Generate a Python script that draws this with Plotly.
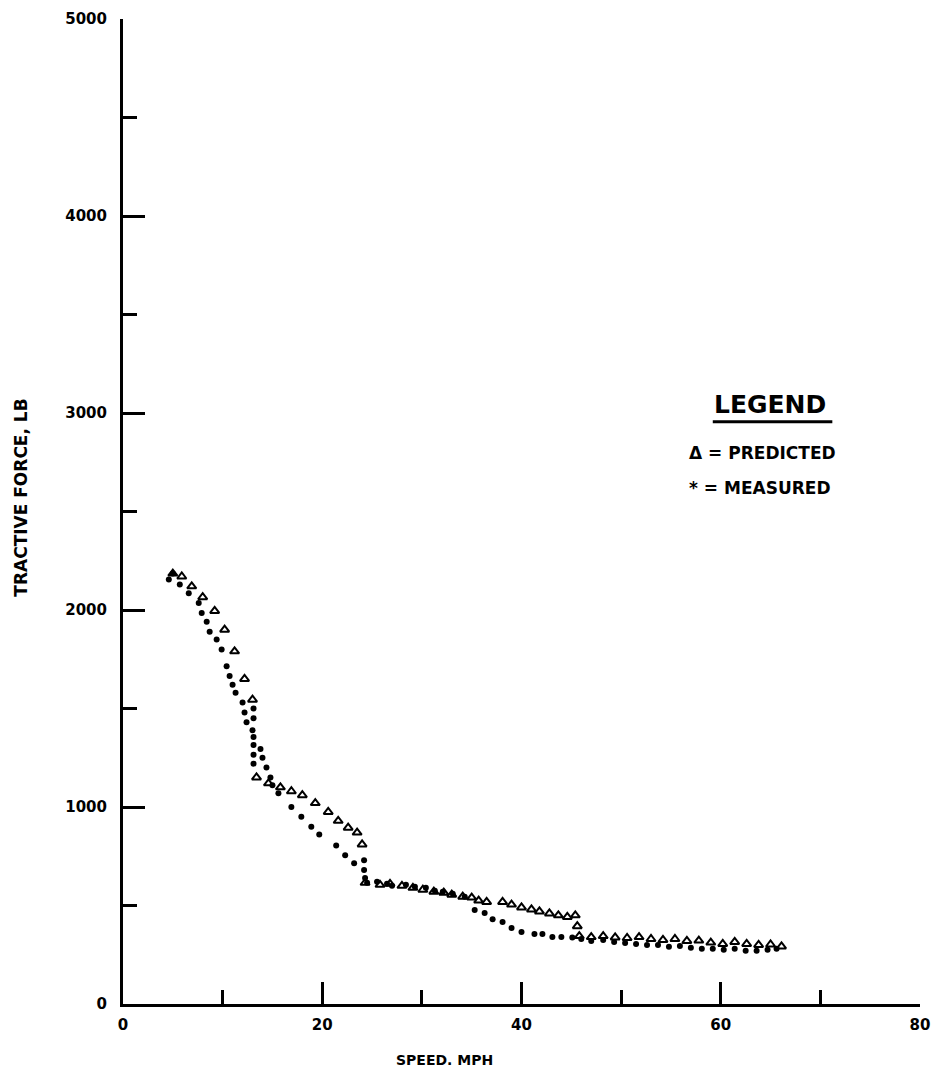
import plotly.graph_objects as go

# Tractive force vs. speed: predicted and measured values
predicted_mph = [5.0, 5.9, 6.9, 8.0, 9.2, 10.2, 11.2, 12.2, 13.0, 13.4,
                 14.6, 15.8, 16.9, 18.0, 19.3, 20.6, 21.6, 22.6, 23.5, 24.0,
                 24.3, 25.8, 26.8, 28.0, 29.1, 30.1, 31.2, 32.2, 33.0, 34.1,
                 35.0, 35.7, 36.5, 38.1, 39.0, 40.0, 41.0, 41.8, 42.8, 43.7,
                 44.6, 45.4, 45.6, 45.8, 47.0, 48.2, 49.4, 50.6, 51.8, 53.0,
                 54.2, 55.4, 56.6, 57.8, 59.0, 60.2, 61.4, 62.6, 63.8, 65.0,
                 66.1]
predicted_lb = [2185, 2170, 2120, 2065, 1995, 1900, 1790, 1650, 1545, 1150,
                1120, 1100, 1080, 1060, 1020, 975, 930, 895, 870, 810,
                615, 605, 610, 600, 590, 580, 570, 565, 555, 545,
                540, 525, 518, 518, 505, 490, 480, 470, 460, 450,
                442, 450, 395, 345, 340, 345, 338, 335, 340, 330,
                325, 330, 320, 322, 312, 305, 315, 305, 300, 302,
                292]

measured_mph = [4.6, 5.0, 5.7, 6.6, 7.6, 7.9, 8.4, 8.7, 9.4, 9.9,
                10.4, 10.7, 11.0, 11.3, 12.0, 12.2, 12.4, 13.0, 13.1, 13.1,
                13.1, 13.1, 13.1, 13.1, 13.8, 14.0, 14.4, 14.8, 15.0, 15.6,
                16.9, 17.9, 18.9, 19.7, 21.4, 22.3, 23.2, 24.2, 24.2, 24.3,
                24.5, 25.5, 26.5, 27.0, 28.4, 29.3, 30.4, 31.3, 32.1, 33.1,
                34.3, 35.3, 36.3, 37.1, 38.1, 39.0, 40.0, 41.3, 42.1, 43.1,
                44.0, 45.1, 46.0, 47.0, 48.2, 49.3, 50.4, 51.5, 52.6, 53.7,
                54.8, 55.9, 57.0, 58.1, 59.2, 60.3, 61.4, 62.5, 63.6, 64.7,
                65.6]
measured_lb = [2155, 2185, 2130, 2085, 2035, 1985, 1940, 1890, 1850, 1800,
               1715, 1665, 1620, 1580, 1530, 1480, 1430, 1390, 1500, 1450,
               1355, 1315, 1265, 1220, 1295, 1250, 1200, 1150, 1110, 1070,
               1000, 950, 900, 860, 805, 755, 715, 730, 680, 640,
               615, 620, 610, 600, 605, 595, 590, 575, 570, 560,
               545, 477, 462, 430, 416, 386, 365, 355, 355, 340,
               340, 338, 330, 320, 325, 315, 310, 305, 300, 300,
               290, 295, 285, 280, 280, 275, 280, 270, 270, 275,
               280]

x_tick_vals = [0, 20, 40, 60, 80]
x_tick_text = ["0", "20", "40", "60", "80"]
y_tick_vals = [0, 1000, 2000, 3000, 4000, 5000]
y_tick_text = ["0", "1000", "2000", "3000", "4000", "5000"]

FONT = "DejaVu Sans"
INK = "black"

fig = go.Figure()

fig.add_trace(go.Scatter(
    x=measured_mph, y=measured_lb, mode="markers", name="MEASURED",
    marker=dict(symbol="circle", size=6, color=INK),
    cliponaxis=False,
))
fig.add_trace(go.Scatter(
    x=predicted_mph, y=predicted_lb, mode="markers", name="PREDICTED",
    marker=dict(symbol="triangle-up-open", size=8, color=INK,
                line=dict(width=2, color=INK)),
    cliponaxis=False,
))

axis_common = dict(
    showgrid=False, zeroline=False, showline=True, linecolor=INK,
    linewidth=3, ticks="inside", tickcolor=INK, tickwidth=3, ticklen=22,
    automargin=False,
    tickfont=dict(family=FONT, size=15, color=INK, weight="bold"),
)

fig.update_xaxes(
    range=[0, 80], tickmode="array", tickvals=x_tick_vals,
    ticktext=x_tick_text, ticklabelstandoff=5,
    minor=dict(ticks="inside", dtick=10, ticklen=14, tickwidth=2.5,
               tickcolor=INK, showgrid=False),
    **axis_common,
)
fig.update_yaxes(
    range=[0, 5000], tickmode="array", tickvals=y_tick_vals,
    ticktext=y_tick_text, ticklabelstandoff=10,
    minor=dict(ticks="inside", dtick=500, ticklen=14, tickwidth=2.5,
               tickcolor=INK, showgrid=False),
    **axis_common,
)

annotations = [
    dict(text="SPEED. MPH", x=0.403, y=-0.057, xref="paper", yref="paper",
         showarrow=False, xanchor="center", yanchor="middle",
         font=dict(family=FONT, size=14, color=INK, weight="bold")),
    dict(text="TRACTIVE FORCE, LB", x=-0.128, y=0.514, xref="paper",
         yref="paper", showarrow=False, textangle=-90,
         xanchor="center", yanchor="middle",
         font=dict(family=FONT, size=17, color=INK, weight="bold")),
    dict(text="LEGEND", x=0.812, y=0.609, xref="paper", yref="paper",
         showarrow=False, xanchor="center", yanchor="middle",
         font=dict(family=FONT, size=25, color=INK, weight="bold")),
    dict(text="\u0394 = PREDICTED", x=0.708, y=0.559, xref="paper",
         yref="paper", showarrow=False, xanchor="left", yanchor="middle",
         font=dict(family=FONT, size=17, color=INK, weight="bold")),
    dict(text="* = MEASURED", x=0.708, y=0.524, xref="paper",
         yref="paper", showarrow=False, xanchor="left", yanchor="middle",
         font=dict(family=FONT, size=17, color=INK, weight="bold")),
]

fig.update_layout(
    width=934, height=1076,
    margin=dict(l=123, r=14, t=19, b=72),
    paper_bgcolor="white", plot_bgcolor="white",
    showlegend=False,
    annotations=annotations,
    shapes=[dict(type="line", xref="paper", yref="paper",
                 x0=0.740, x1=0.890, y0=0.591, y1=0.591,
                 line=dict(color=INK, width=3))],
)

fig.write_html("out.html")
